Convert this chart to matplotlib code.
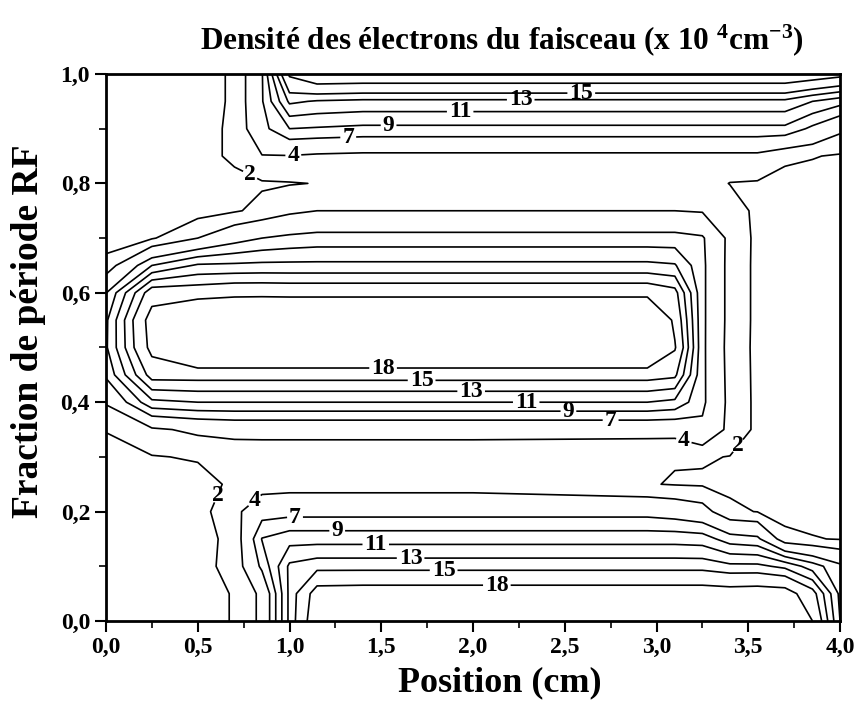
import numpy as np
import matplotlib
matplotlib.use('Agg')
import matplotlib.pyplot as plt
from matplotlib.ticker import MultipleLocator, FuncFormatter

# grid: position (cm) and RF phase fraction
pos_cm = [0.0, 0.25, 0.5, 0.7, 0.85, 1.0, 1.15, 1.4, 2.0, 2.95, 3.1, 3.25, 3.4, 3.55, 3.7, 3.85, 4.0]
phase = [0.0, 0.05, 0.10, 0.15, 0.20, 0.25, 0.30, 0.35, 0.40, 0.45, 0.50,
         0.55, 0.60, 0.65, 0.70, 0.75, 0.80, 0.85, 0.90, 0.95, 1.0]

# density (x 10^4 cm^-3), one row per phase value
dens_000 = [1.2, 1.3, 1.4, 2.1, 4.5, 13.5, 20.5, 23.0, 23.0, 23.0, 23.0, 23.0, 23.0, 23.0, 21.0, 18.0, 9.0]
dens_005 = [1.2, 1.3, 1.4, 2.1, 4.5, 13.5, 19.5, 19.7, 19.7, 19.7, 19.7, 19.7, 19.5, 19.7, 19.5, 16.0, 8.5]
dens_010 = [1.2, 1.3, 1.5, 2.5, 7.5, 13.4, 14.2, 14.2, 14.2, 14.2, 14.2, 14.2, 13.5, 13.5, 12.5, 10.0, 7.5]
dens_015 = [1.2, 1.3, 1.5, 2.4, 9.1, 10.2, 10.2, 10.2, 10.2, 10.2, 10.2, 10.0, 8.0, 7.5, 2.6, 2.1, 1.9]
dens_020 = [1.2, 1.3, 1.3, 3.3, 6.0, 6.2, 6.2, 6.2, 6.2, 6.2, 5.8, 5.0, 2.3, 1.95, 1.3, 1.4, 1.3]
dens_025 = [1.3, 1.4, 1.4, 2.3, 2.8, 3.0, 3.0, 3.0, 3.0, 2.1, 1.9, 1.8, 1.7, 1.5, 1.2, 1.2, 1.2]
dens_030 = [1.6, 1.9, 2.15, 2.4, 2.5, 2.5, 2.5, 2.5, 2.5, 2.2, 2.1, 2.15, 1.95, 1.5, 1.2, 1.2, 1.2]
dens_035 = [2.05, 3.6, 4.5, 4.9, 4.9, 4.9, 4.9, 4.9, 4.9, 4.9, 4.9, 6.5, 3.3, 1.6, 1.2, 1.2, 1.2]
dens_040 = [4.2, 10.5, 11.0, 11.0, 11.0, 11.0, 11.0, 11.0, 11.0, 11.0, 10.5, 7.5, 3.3, 1.6, 1.2, 1.2, 1.2]
dens_045 = [7.4, 16.0, 16.0, 16.0, 16.0, 16.0, 16.0, 16.0, 16.0, 16.0, 15.5, 7.5, 3.2, 1.6, 1.2, 1.2, 1.2]
dens_050 = [8.7, 19.0, 24.0, 24.0, 24.0, 24.0, 24.0, 24.0, 24.0, 24.0, 18.3, 7.5, 3.1, 1.6, 1.2, 1.2, 1.2]
dens_055 = [8.6, 19.5, 23.0, 23.5, 24.0, 24.0, 24.0, 24.0, 24.0, 24.0, 17.2, 7.5, 3.2, 1.6, 1.2, 1.2, 1.2]
dens_060 = [6.9, 16.5, 16.5, 17.0, 17.0, 16.9, 16.9, 16.9, 16.9, 16.9, 15.8, 7.5, 3.2, 1.6, 1.2, 1.2, 1.2]
dens_065 = [2.6, 9.0, 11.3, 11.4, 11.5, 11.5, 11.5, 11.5, 11.5, 11.5, 11.2, 7.5, 3.2, 1.6, 1.2, 1.2, 1.2]
dens_070 = [1.2, 1.8, 4.0, 6.0, 7.0, 7.5, 7.8, 7.8, 7.8, 7.8, 7.8, 7.3, 3.3, 1.6, 1.2, 1.2, 1.2]
dens_075 = [1.2, 1.3, 1.2, 1.8, 2.5, 3.5, 4.0, 4.0, 4.0, 4.0, 4.0, 3.8, 2.9, 1.6, 1.3, 1.2, 1.2]
dens_080 = [1.2, 1.2, 1.4, 1.7, 1.8, 1.9, 2.05, 3.0, 3.0, 3.0, 3.0, 2.8, 1.95, 1.85, 1.5, 1.3, 1.2]
dens_085 = [1.2, 1.3, 1.6, 2.2, 3.9, 3.9, 3.6, 3.4, 3.4, 3.4, 3.4, 3.4, 3.4, 3.4, 2.3, 2.1, 1.8]
dens_090 = [1.2, 1.3, 1.7, 2.15, 6.3, 9.0, 8.8, 8.5, 8.5, 8.5, 8.5, 8.5, 8.5, 8.5, 8.5, 6.5, 4.5]
dens_095 = [1.2, 1.3, 1.7, 2.1, 6.8, 13.4, 12.8, 12.5, 12.5, 12.5, 12.5, 12.5, 12.5, 12.5, 12.5, 11.0, 9.8]
dens_100 = [1.2, 1.3, 1.7, 2.1, 6.8, 18.5, 21.0, 20.8, 20.8, 20.8, 20.8, 20.8, 20.8, 20.8, 20.8, 20.0, 19.0]

levels = [2, 4, 7, 9, 11, 13, 15, 18]

# where the level labels sit on the lines
label_x = [0.78, 1.02, 1.32, 1.54, 1.93, 2.26, 2.59,
           1.51, 1.72, 1.99, 2.29, 2.52, 2.75, 3.15, 3.51,
           0.63, 0.81, 1.03, 1.26, 1.47, 1.66, 1.84, 2.13]
label_y = [0.812, 0.856, 0.885, 0.903, 0.923, 0.947, 0.965,
           0.459, 0.439, 0.419, 0.399, 0.380, 0.358, 0.331, 0.303,
           0.227, 0.220, 0.194, 0.166, 0.143, 0.115, 0.090, 0.064]


def comma_fmt(v, pos):
    """ French decimal comma for tick labels. """
    return f'{v:.1f}'.replace('.', ',')


def plot_density_contours():
    plt.rcParams['font.family'] = 'Liberation Serif'
    plt.rcParams['font.weight'] = 'bold'
    plt.rcParams['axes.labelweight'] = 'bold'
    plt.rcParams['mathtext.fontset'] = 'custom'
    plt.rcParams['mathtext.rm'] = 'Liberation Serif:bold'
    plt.rcParams['mathtext.it'] = 'Liberation Serif:bold'
    plt.rcParams['mathtext.bf'] = 'Liberation Serif:bold'

    z = np.array([dens_000, dens_005, dens_010, dens_015, dens_020, dens_025, dens_030,
                  dens_035, dens_040, dens_045, dens_050, dens_055, dens_060, dens_065,
                  dens_070, dens_075, dens_080, dens_085, dens_090, dens_095, dens_100])

    fig = plt.figure(figsize=(8.58, 7.16), dpi=100)
    ax = fig.add_axes([106 / 858, 95 / 716, 734 / 858, 547 / 716])

    cs = ax.contour(pos_cm, phase, z, levels=levels, colors='black', linewidths=1.2)
    ax.clabel(cs, fmt='%d', fontsize=17, inline=True, inline_spacing=2, rightside_up=True,
              manual=list(zip(label_x, label_y)))
    # labels in the original stand upright
    for t in cs.labelTexts:
        t.set_rotation(0)

    ax.set_xlim(0, 4)
    ax.set_ylim(0, 1)
    ax.xaxis.set_major_locator(MultipleLocator(0.5))
    ax.xaxis.set_minor_locator(MultipleLocator(0.25))
    ax.yaxis.set_major_locator(MultipleLocator(0.2))
    ax.yaxis.set_minor_locator(MultipleLocator(0.1))
    ax.xaxis.set_major_formatter(FuncFormatter(comma_fmt))
    ax.yaxis.set_major_formatter(FuncFormatter(comma_fmt))
    ax.tick_params(which='major', direction='out', length=8, width=1.5, labelsize=17)
    ax.tick_params(which='minor', direction='out', length=5, width=1.2)
    for s in ax.spines.values():
        s.set_linewidth(2)

    ax.set_xlabel('Position (cm)', fontsize=26)
    ax.xaxis.set_label_coords(0.537, -0.082)
    ax.set_ylabel('Fraction de période RF', fontsize=27)
    ax.yaxis.set_label_coords(-0.082, 0.53)
    fig.text(502 / 858, 1 - 40 / 716,
             r'Densité des électrons du faisceau (x 10 $^{4}$cm$^{-3}$)',
             ha='center', va='center', fontsize=22.5)

    fig.savefig('out.png', dpi=100)


plot_density_contours()
